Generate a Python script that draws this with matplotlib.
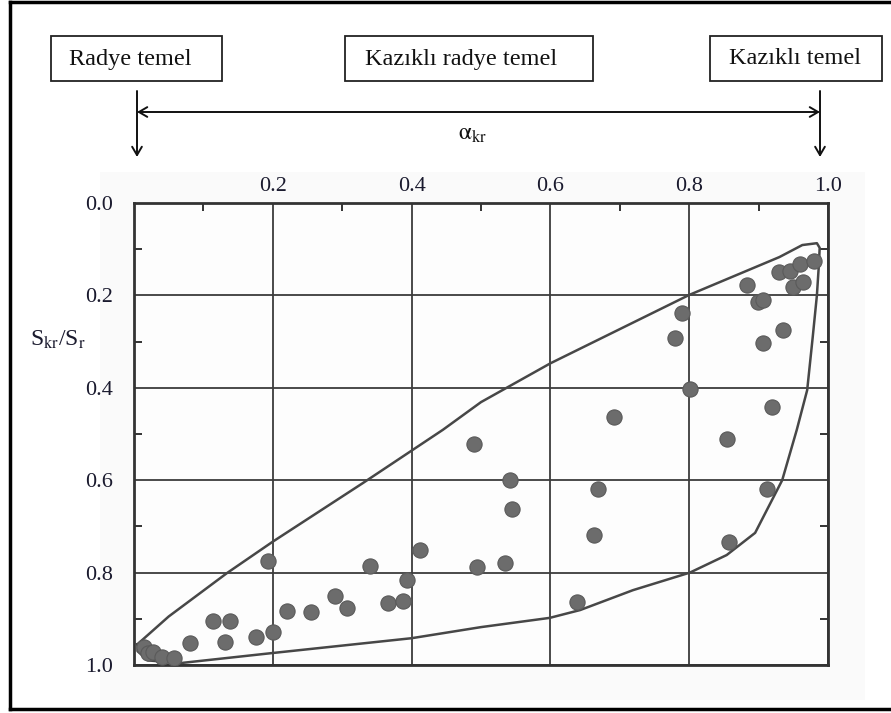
import matplotlib
matplotlib.use("Agg")
import matplotlib.pyplot as plt
from matplotlib.patches import Rectangle, FancyArrowPatch
from matplotlib.lines import Line2D

plt.rcParams['font.family'] = ['Liberation Serif', 'DejaVu Serif']
plt.rcParams['mathtext.fontset'] = 'stix'

# Measured pile-raft cases: load share of piles vs. normalised settlement
alpha_kr = [0.015, 0.020, 0.028, 0.040, 0.058, 0.081, 0.114, 0.138, 0.131, 0.176,
            0.200, 0.193, 0.220, 0.255, 0.290, 0.307, 0.340, 0.366, 0.388, 0.393,
            0.412, 0.490, 0.494, 0.535, 0.542, 0.545, 0.638, 0.663, 0.669, 0.692,
            0.780, 0.790, 0.801, 0.855, 0.857, 0.883, 0.899, 0.906, 0.906, 0.912,
            0.919, 0.935, 0.930, 0.945, 0.950, 0.964, 0.960, 0.980]
s_ratio = [0.960, 0.975, 0.972, 0.982, 0.985, 0.953, 0.905, 0.905, 0.950, 0.939,
           0.929, 0.775, 0.883, 0.885, 0.851, 0.876, 0.786, 0.866, 0.861, 0.816,
           0.751, 0.522, 0.788, 0.779, 0.600, 0.662, 0.864, 0.719, 0.620, 0.463,
           0.292, 0.238, 0.403, 0.511, 0.733, 0.177, 0.214, 0.210, 0.303, 0.620,
           0.441, 0.275, 0.149, 0.147, 0.181, 0.171, 0.132, 0.125]

# Envelope enclosing the measured cases
env_x = [0.005, 0.050, 0.134, 0.200, 0.330, 0.445, 0.500, 0.600, 0.800, 0.930,
         0.963, 0.984, 0.988, 0.987, 0.984, 0.978, 0.970, 0.955, 0.934, 0.895,
         0.854, 0.801, 0.719, 0.643, 0.599, 0.500, 0.400, 0.200, 0.066, 0.020,
         0.005, 0.005]
env_y = [0.955, 0.895, 0.801, 0.733, 0.606, 0.491, 0.431, 0.347, 0.199, 0.117,
         0.091, 0.087, 0.097, 0.130, 0.200, 0.290, 0.405, 0.491, 0.600, 0.714,
         0.762, 0.800, 0.838, 0.881, 0.898, 0.918, 0.942, 0.974, 0.996, 0.990,
         0.970, 0.955]

x_ticks = [0.2, 0.4, 0.6, 0.8, 1.0]
x_tick_labels = ['0.2', '0.4', '0.6', '0.8', '1.0']
y_ticks = [0.0, 0.2, 0.4, 0.6, 0.8, 1.0]
y_tick_labels = ['0.0', '0.2', '0.4', '0.6', '0.8', '1.0']
minor_ticks = [0.1, 0.3, 0.5, 0.7, 0.9]

foundation_types = ['Radye temel', 'Kazıklı radye temel', 'Kazıklı temel']

W, H = 891, 713
fig = plt.figure(figsize=(W / 100, H / 100), dpi=100)
fig.patch.set_facecolor('white')


def fx(px):
    return px / W


def fy(py):
    return 1 - py / H


# faint scanned backdrop behind the chart
back = fig.add_axes([fx(100), fy(700), fx(865) - fx(100), fy(172) - fy(700)])
back.set_facecolor('#fafafa')
back.set_xticks([])
back.set_yticks([])
for s in back.spines.values():
    s.set_visible(False)
back.set_zorder(0)

ax = fig.add_axes([fx(134), fy(665), fx(828) - fx(134), fy(203) - fy(665)])
ax.set_zorder(1)
ax.set_facecolor('#fdfdfd')
ax.set_xlim(0, 1.0)
ax.set_ylim(1.0, 0.0)

ax.xaxis.tick_top()
ax.set_xticks(x_ticks)
ax.set_xticklabels(x_tick_labels)
ax.set_yticks(y_ticks)
ax.set_yticklabels(y_tick_labels)
ax.tick_params(axis='both', which='major', length=0, labelsize=16,
               labelcolor='#1a1a2e')
ax.tick_params(axis='x', which='major', pad=5)
ax.tick_params(axis='y', which='major', pad=15)
ax.set_xticks(minor_ticks, minor=True)
ax.set_yticks(minor_ticks, minor=True)
ax.tick_params(which='minor', direction='in', length=6, width=1.4, color='#333333',
               top=True, bottom=False, left=True, right=True,
               labeltop=False, labelleft=False)

ax.grid(True, which='major', color='#3c3c3c', linewidth=1.3)
for s in ax.spines.values():
    s.set_color('#333333')
    s.set_linewidth(2.0)

ax.plot(env_x, env_y, color='#474747', linewidth=1.8, zorder=3)
ax.scatter(alpha_kr, s_ratio, s=120, color='#6c6c6c', edgecolors='#5a5a5a',
           linewidths=0.8, zorder=4)

fig.text(fx(58), fy(340), r'S$_{\mathrm{kr}}$/S$_{\mathrm{r}}$', fontsize=17,
         color='#1a1a2e', ha='center', va='center', zorder=5)

# header boxes for the three foundation types
boxes = [(51, 222), (345, 593), (710, 882)]
text_x = [130, 461, 795]
for (x0, x1), tx, name in zip(boxes, text_x, foundation_types):
    fig.patches.append(Rectangle((fx(x0), fy(81)), fx(x1) - fx(x0), fy(36) - fy(81),
                                 transform=fig.transFigure, facecolor='white',
                                 edgecolor='#222222', linewidth=1.3))
    fig.text(fx(tx), fy(59), name, fontsize=17.5, color='#111111',
             ha='center', va='center')

# range arrows
fig.patches.append(FancyArrowPatch((fx(137), fy(112)), (fx(820), fy(112)),
                                   transform=fig.transFigure,
                                   arrowstyle='<->,head_length=6,head_width=3.5',
                                   color='#111111', linewidth=1.4, shrinkA=0, shrinkB=0))
for xa in (137, 820):
    fig.patches.append(FancyArrowPatch((fx(xa), fy(91)), (fx(xa), fy(157)),
                                       transform=fig.transFigure,
                                       arrowstyle='->,head_length=6,head_width=3.5',
                                       color='#111111', linewidth=1.4, shrinkA=0, shrinkB=0))
fig.text(fx(472), fy(134), r'$\mathrm{\alpha}_{\mathrm{kr}}$', fontsize=17,
         color='#111111', ha='center', va='center')

# outer frame
for xs, ys in [((10, W), (2, 2)), ((10, 10), (2, 709)), ((10, W), (709, 709))]:
    fig.lines.append(Line2D([fx(v) for v in xs], [fy(v) for v in ys],
                            transform=fig.transFigure, color='black', linewidth=2.5))

fig.savefig('out.png', dpi=100)
